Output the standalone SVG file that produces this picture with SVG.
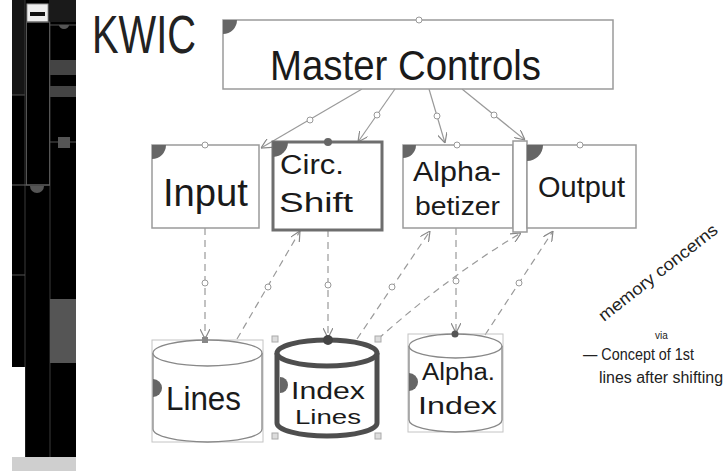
<svg xmlns="http://www.w3.org/2000/svg" width="727" height="471" viewBox="0 0 727 471">
<style>
.box{fill:#fff;stroke:#9a9a9a;stroke-width:1.5}
.lbl{font-family:"Liberation Sans",Arial,sans-serif;fill:#1a1a1a}
.hand{font-family:"Liberation Sans",Arial,sans-serif;fill:#222}
.corner{fill:#666}
.ln{fill:none;stroke:#9a9a9a;stroke-width:1.2}
.dash{fill:none;stroke:#9a9a9a;stroke-width:1.2;stroke-dasharray:7 5}
.mk{fill:#fff;stroke:#999;stroke-width:1}
.cyl{fill:#fff;stroke:#888;stroke-width:1.3}
.sel{fill:none;stroke:#c4c4c4;stroke-width:1}
</style>
<defs>
<marker id="arr" viewBox="0 0 10 10" refX="10" refY="5" markerWidth="10" markerHeight="10" markerUnits="userSpaceOnUse" orient="auto">
<path d="M0,0 L10,5 L0,10" fill="none" stroke="#888" stroke-width="1.2"/>
</marker>
</defs>
<rect width="727" height="471" fill="#fff"/>

<g id="sidebar">
<rect x="12" y="0" width="64" height="457" fill="#000"/>
<rect x="12" y="0" width="13" height="95" fill="#151515"/>
<line x1="12" y1="95" x2="25" y2="95" stroke="#555"/>
<line x1="25" y1="0" x2="25" y2="457" stroke="#3a3a3a"/>
<line x1="50" y1="0" x2="50" y2="457" stroke="#3a3a3a"/>
<rect x="27" y="4" width="21" height="18" fill="#eee" stroke="#999"/>
<rect x="30" y="12" width="15" height="4" fill="#111"/>
<rect x="26.5" y="22" width="23" height="163" fill="none" stroke="#555"/>
<line x1="12" y1="185" x2="50" y2="185" stroke="#666"/>
<path d="M30,186 A7 7 0 0 0 44,186 Z" fill="#555"/>
<rect x="50" y="0" width="26" height="22" fill="#1a1a1a"/>
<line x1="50" y1="25" x2="76" y2="25" stroke="#555"/>
<path d="M59,25 A5 4 0 0 0 69,25 Z" fill="#555"/>
<rect x="50" y="60" width="26" height="15" fill="#444"/>
<rect x="50" y="86" width="26" height="11" fill="#444"/>
<line x1="50" y1="142" x2="76" y2="142" stroke="#555"/>
<rect x="58" y="137" width="12" height="11" fill="#555"/>
<line x1="12" y1="275" x2="25" y2="275" stroke="#555"/>
<rect x="50" y="299" width="26" height="64" fill="#555"/>
<rect x="12" y="367" width="13" height="90" fill="#fff"/>
<rect x="12" y="457" width="64" height="14" fill="#cfcfcf"/>
</g>

<g id="title">
<text class="hand" x="92" y="53" font-size="40" textLength="104" lengthAdjust="spacingAndGlyphs" transform="translate(0,-17) scale(1,1.32)">KWIC</text>
</g>

<g id="connectors">
<line class="ln" x1="362" y1="89" x2="261" y2="148" marker-end="url(#arr)"/>
<line class="ln" x1="395" y1="89" x2="358" y2="142" marker-end="url(#arr)"/>
<line class="ln" x1="429" y1="89" x2="445" y2="143" marker-end="url(#arr)"/>
<line class="ln" x1="462" y1="89" x2="525" y2="140" marker-end="url(#arr)"/>
<line class="dash" x1="205" y1="228" x2="205" y2="339" marker-end="url(#arr)"/>
<line class="dash" x1="237" y1="339" x2="300" y2="231" marker-end="url(#arr)"/>
<line class="dash" x1="328" y1="230" x2="328" y2="338" marker-end="url(#arr)"/>
<line class="dash" x1="357" y1="339" x2="430" y2="231" marker-end="url(#arr)"/>
<line class="dash" x1="456" y1="228" x2="456" y2="333" marker-end="url(#arr)"/>
<path class="dash" d="M378,339 Q450,275 521,233" marker-end="url(#arr)"/>
<line class="dash" x1="485" y1="335" x2="553" y2="231" marker-end="url(#arr)"/>
<circle class="mk" cx="310" cy="120" r="3"/>
<circle class="mk" cx="377" cy="115" r="3"/>
<circle class="mk" cx="437" cy="116" r="3"/>
<circle class="mk" cx="494" cy="115" r="3"/>
<circle class="mk" cx="205" cy="283" r="3"/>
<circle class="mk" cx="268" cy="287" r="3"/>
<circle class="mk" cx="328" cy="285" r="3"/>
<circle class="mk" cx="392" cy="287" r="3"/>
<circle class="mk" cx="456" cy="281" r="3"/>
<circle class="mk" cx="519" cy="283" r="3"/>
</g>

<g id="master-controls">
<rect class="box" x="223" y="20" width="390" height="69"/>
<path class="corner" d="M223,20 h14 A14 14 0 0 1 223,34 Z"/>
<circle class="mk" cx="419" cy="20" r="3"/>
<text class="lbl" x="270" y="80" font-size="42" textLength="271" lengthAdjust="spacingAndGlyphs">Master Controls</text>
</g>

<g id="input">
<rect class="box" x="152" y="145" width="107" height="83"/>
<path class="corner" d="M152,145 h14 A14 14 0 0 1 152,159 Z"/>
<circle class="mk" cx="205" cy="145" r="3"/>
<text class="lbl" x="163" y="206" font-size="38" textLength="85" lengthAdjust="spacingAndGlyphs">Input</text>
</g>

<g id="circ-shift">
<rect x="273" y="142" width="109" height="88" fill="#fff" stroke="#6e6e6e" stroke-width="3"/>
<path class="corner" d="M273,142 h15 A15 15 0 0 1 273,157 Z"/>
<circle cx="328" cy="142" r="4" fill="#666"/>
<text class="lbl" x="280" y="174" font-size="27" textLength="64" lengthAdjust="spacingAndGlyphs">Circ.</text>
<text class="lbl" x="279" y="212" font-size="27" textLength="74" lengthAdjust="spacingAndGlyphs">Shift</text>
</g>

<g id="alphabetizer">
<rect class="box" x="403" y="145" width="110" height="83"/>
<path class="corner" d="M403,145 h13 A13 13 0 0 1 403,158 Z"/>
<circle class="mk" cx="457" cy="145" r="3"/>
<text class="lbl" x="413" y="181" font-size="27" textLength="88" lengthAdjust="spacingAndGlyphs">Alpha-</text>
<text class="lbl" x="415" y="215" font-size="25" textLength="85" lengthAdjust="spacingAndGlyphs">betizer</text>
</g>

<g id="output">
<rect class="box" x="513" y="141" width="14" height="91"/>
<rect class="box" x="527" y="145" width="109" height="83"/>
<path class="corner" d="M527,145 h16 A16 16 0 0 1 527,161 Z"/>
<circle class="mk" cx="580" cy="145" r="3"/>
<text class="lbl" x="538" y="197" font-size="30" textLength="87" lengthAdjust="spacingAndGlyphs">Output</text>
</g>

<g id="lines">
<rect class="sel" x="152" y="340" width="111" height="102"/>
<path class="cyl" d="M153,353 V429 A54.5 13 0 0 0 262,429 V353"/>
<ellipse class="cyl" cx="207.5" cy="353" rx="54.5" ry="13"/>
<path d="M153,379 A9 9 0 0 1 153,397 Z" fill="#666"/>
<rect x="202" y="337" width="6" height="6" fill="#888"/>
<text class="lbl" x="166" y="410" font-size="34" textLength="75" lengthAdjust="spacingAndGlyphs">Lines</text>
</g>

<g id="index-lines">
<path d="M277,353 V423 A50 13 0 0 0 377,423 V353" fill="#fff" stroke="#4e4e4e" stroke-width="5"/>
<ellipse cx="327" cy="353" rx="50" ry="13" fill="#fff" stroke="#4e4e4e" stroke-width="5"/>
<path d="M280,377 A8 8 0 0 1 280,393 Z" fill="#666"/>
<circle cx="328" cy="340" r="5" fill="#444"/>
<rect x="272" y="336" width="6" height="6" fill="#ddd" stroke="#aaa"/>
<rect x="375" y="336" width="6" height="6" fill="#ddd" stroke="#aaa"/>
<rect x="272" y="433" width="6" height="6" fill="#ddd" stroke="#aaa"/>
<rect x="375" y="433" width="6" height="6" fill="#ddd" stroke="#aaa"/>
<text class="lbl" x="291" y="399" font-size="24" textLength="74" lengthAdjust="spacingAndGlyphs">Index</text>
<text class="lbl" x="295" y="424" font-size="20" textLength="66" lengthAdjust="spacingAndGlyphs">Lines</text>
</g>

<g id="alpha-index">
<rect class="sel" x="408" y="334" width="95" height="98"/>
<path class="cyl" d="M409,346 V420 A46.5 12 0 0 0 502,420 V346"/>
<ellipse class="cyl" cx="455.5" cy="346" rx="46.5" ry="12"/>
<path d="M409,373 A9 9 0 0 1 409,391 Z" fill="#666"/>
<circle cx="455" cy="334" r="3.5" fill="#555"/>
<text class="lbl" x="422" y="380" font-size="23" textLength="73" lengthAdjust="spacingAndGlyphs">Alpha.</text>
<text class="lbl" x="418" y="414" font-size="23" textLength="79" lengthAdjust="spacingAndGlyphs">Index</text>
</g>

<g id="notes">
<text class="hand" x="0" y="0" font-size="17" textLength="146" lengthAdjust="spacingAndGlyphs" transform="translate(604,322) rotate(-38)">memory concerns</text>
<text class="hand" x="655" y="339" font-size="10">via</text>
<text class="hand" x="583" y="360" font-size="17" textLength="111" lengthAdjust="spacingAndGlyphs">— Concept of 1st</text>
<text class="hand" x="599" y="383" font-size="16" textLength="124" lengthAdjust="spacingAndGlyphs">lines after shifting</text>
</g>
</svg>
